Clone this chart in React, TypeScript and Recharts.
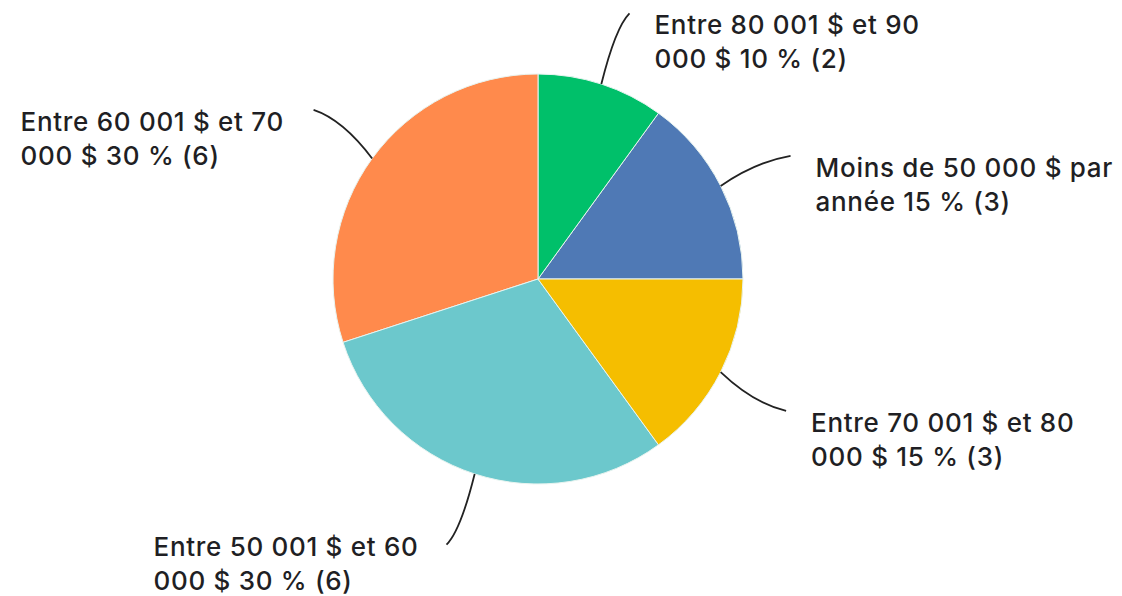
import React from 'react';
import { PieChart, Pie, Cell } from 'recharts';

// Slices in drawing order (counter-clockwise from 3 o'clock)
const categories = [
  ['Moins de 50 000 $ par', 'année 15 % (3)'],
  ['Entre 80 001 $ et 90', '000 $ 10 % (2)'],
  ['Entre 60 001 $ et 70', '000 $ 30 % (6)'],
  ['Entre 50 001 $ et 60', '000 $ 30 % (6)'],
  ['Entre 70 001 $ et 80', '000 $ 15 % (3)'],
];
const counts = [3, 2, 6, 6, 3];
const colors = ['#4f79b5', '#00c06a', '#ff8a4c', '#6cc8cc', '#f5be00'];

const data = counts.map((value, i) => ({ name: categories[i].join(' '), value }));

const RAD = Math.PI / 180;
const H = 596;

const renderLabel = (props: any) => {
  const { cx, cy, midAngle, outerRadius, index } = props;
  const a = -(midAngle - 1) * RAD;
  const sx = cx + outerRadius * Math.cos(-midAngle * RAD);
  const sy = cy + outerRadius * Math.sin(-midAngle * RAD);
  const ex = cx + (outerRadius + 76) * Math.cos(a);
  const ey = cy + (outerRadius + 76) * Math.sin(a);
  const qx = sx + (ex - sx) * 0.5;
  const qy = sy + (ey - sy) * 0.8;
  const right = Math.cos(a) >= 0;
  const tx = right ? ex + 25 : ex - 293;
  // keep the second line inside the picture
  const ty = Math.min(ey + 21, H - 33 - 7);
  const [l1, l2] = categories[index];
  return (
    <g>
      <path d={`M${sx},${sy} Q${qx},${qy} ${ex},${ey}`} stroke="#222" strokeWidth={1.8} fill="none" />
      <text
        x={tx}
        y={ty}
        fill="#1f1f24"
        fontSize={26}
        fontWeight={500}
        letterSpacing={0.7}
        fontFamily="Inter, sans-serif"
        textAnchor="start"
      >
        <tspan x={tx}>{l1}</tspan>
        <tspan x={tx} dy={34}>{l2}</tspan>
      </text>
    </g>
  );
};

export default function App() {
  return (
    <div style={{ position: 'absolute', left: 0, top: 0, background: '#fff' }}>
      <PieChart width={1122} height={H} margin={{ top: 0, right: 0, bottom: 0, left: 0 }}>
        <Pie
          data={data}
          dataKey="value"
          cx={538}
          cy={279}
          outerRadius={205}
          startAngle={0}
          endAngle={360}
          stroke="#e8f4f0"
          strokeWidth={1}
          label={renderLabel}
          labelLine={false}
          isAnimationActive={false}
        >
          {data.map((_, i) => (
            <Cell key={`cell-${i}`} fill={colors[i]} />
          ))}
        </Pie>
      </PieChart>
    </div>
  );
}
